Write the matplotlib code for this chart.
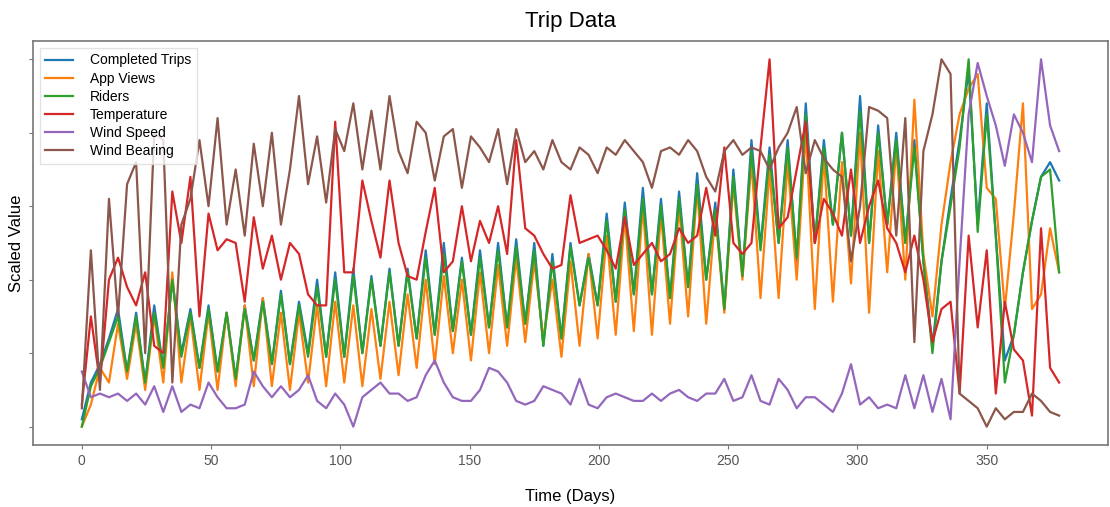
import numpy as np
import matplotlib
matplotlib.use("Agg")
import matplotlib.pyplot as plt

plt.rcParams['font.family'] = ['Liberation Sans', 'DejaVu Sans']

# half-week sampling, days 0 .. 378
days = np.arange(0, 379, 3.5)

completed_trips = [
    0.02, 0.12, 0.17, 0.24, 0.32, 0.15, 0.31, 0.12, 0.33, 0.16,
    0.40, 0.20, 0.32, 0.16, 0.33, 0.15, 0.31, 0.13, 0.33, 0.18,
    0.35, 0.17, 0.37, 0.17, 0.34, 0.20, 0.40, 0.19, 0.42, 0.19,
    0.43, 0.20, 0.41, 0.22, 0.43, 0.22, 0.43, 0.24, 0.48, 0.25,
    0.50, 0.26, 0.46, 0.25, 0.48, 0.27, 0.50, 0.27, 0.51, 0.28,
    0.50, 0.22, 0.47, 0.24, 0.50, 0.33, 0.47, 0.33, 0.58, 0.34,
    0.61, 0.36, 0.65, 0.36, 0.62, 0.35, 0.64, 0.38, 0.69, 0.40,
    0.61, 0.32, 0.70, 0.41, 0.78, 0.49, 0.76, 0.50, 0.78, 0.45,
    0.88, 0.50, 0.78, 0.55, 0.80, 0.52, 0.90, 0.50, 0.82, 0.55,
    0.80, 0.50, 0.78, 0.45, 0.22, 0.45, 0.62, 0.78, 0.97, 0.55,
    0.88, 0.52, 0.18, 0.25, 0.42, 0.56, 0.68, 0.72, 0.67,
]

app_views = [
    0.00, 0.06, 0.16, 0.12, 0.28, 0.13, 0.28, 0.10, 0.30, 0.12,
    0.42, 0.12, 0.30, 0.10, 0.31, 0.10, 0.31, 0.11, 0.33, 0.11,
    0.35, 0.11, 0.31, 0.10, 0.31, 0.12, 0.33, 0.11, 0.34, 0.12,
    0.33, 0.11, 0.32, 0.13, 0.34, 0.14, 0.36, 0.16, 0.40, 0.17,
    0.41, 0.20, 0.40, 0.18, 0.42, 0.20, 0.44, 0.22, 0.46, 0.23,
    0.45, 0.24, 0.40, 0.19, 0.45, 0.22, 0.47, 0.24, 0.52, 0.25,
    0.57, 0.26, 0.60, 0.25, 0.58, 0.28, 0.60, 0.30, 0.65, 0.28,
    0.58, 0.31, 0.66, 0.40, 0.72, 0.35, 0.70, 0.35, 0.72, 0.40,
    0.80, 0.32, 0.74, 0.34, 0.72, 0.39, 0.80, 0.31, 0.75, 0.42,
    0.76, 0.40, 0.89, 0.47, 0.30, 0.55, 0.72, 0.85, 0.92, 0.96,
    0.65, 0.62, 0.32, 0.58, 0.88, 0.32, 0.36, 0.54, 0.42,
]

riders = [
    0.00, 0.11, 0.16, 0.23, 0.30, 0.15, 0.30, 0.12, 0.31, 0.16,
    0.40, 0.19, 0.31, 0.16, 0.32, 0.15, 0.31, 0.13, 0.32, 0.18,
    0.34, 0.17, 0.36, 0.17, 0.33, 0.19, 0.38, 0.19, 0.40, 0.19,
    0.41, 0.20, 0.40, 0.22, 0.42, 0.22, 0.42, 0.24, 0.46, 0.25,
    0.47, 0.26, 0.45, 0.25, 0.46, 0.27, 0.48, 0.27, 0.49, 0.28,
    0.48, 0.22, 0.45, 0.24, 0.49, 0.33, 0.46, 0.33, 0.56, 0.34,
    0.59, 0.36, 0.62, 0.36, 0.60, 0.35, 0.62, 0.38, 0.66, 0.40,
    0.59, 0.32, 0.68, 0.41, 0.75, 0.48, 0.74, 0.50, 0.76, 0.46,
    0.85, 0.50, 0.76, 0.55, 0.80, 0.52, 0.86, 0.50, 0.80, 0.55,
    0.78, 0.50, 0.76, 0.45, 0.20, 0.45, 0.60, 0.76, 1.00, 0.53,
    0.85, 0.52, 0.12, 0.25, 0.42, 0.56, 0.68, 0.70, 0.42,
]

temperature = [
    0.06, 0.30, 0.12, 0.40, 0.46, 0.38, 0.33, 0.42, 0.22, 0.20,
    0.64, 0.50, 0.68, 0.30, 0.58, 0.48, 0.51, 0.50, 0.34, 0.57,
    0.43, 0.52, 0.40, 0.50, 0.47, 0.36, 0.33, 0.33, 0.83, 0.42,
    0.42, 0.67, 0.56, 0.46, 0.67, 0.50, 0.41, 0.40, 0.53, 0.65,
    0.42, 0.45, 0.60, 0.45, 0.56, 0.50, 0.60, 0.47, 0.78, 0.54,
    0.52, 0.47, 0.43, 0.44, 0.63, 0.50, 0.51, 0.52, 0.48, 0.43,
    0.57, 0.44, 0.47, 0.50, 0.45, 0.47, 0.54, 0.50, 0.52, 0.65,
    0.52, 0.76, 0.50, 0.47, 0.50, 0.76, 1.00, 0.54, 0.57, 0.70,
    0.83, 0.50, 0.62, 0.58, 0.52, 0.70, 0.50, 0.60, 0.67, 0.54,
    0.50, 0.42, 0.52, 0.40, 0.23, 0.32, 0.34, 0.09, 0.52, 0.27,
    0.48, 0.09, 0.34, 0.21, 0.18, 0.03, 0.54, 0.16, 0.12,
]

wind_speed = [
    0.15, 0.08, 0.09, 0.08, 0.09, 0.07, 0.09, 0.06, 0.11, 0.04,
    0.11, 0.04, 0.06, 0.05, 0.12, 0.08, 0.05, 0.05, 0.06, 0.15,
    0.11, 0.08, 0.11, 0.08, 0.10, 0.14, 0.07, 0.05, 0.09, 0.06,
    0.00, 0.08, 0.10, 0.12, 0.09, 0.09, 0.07, 0.08, 0.14, 0.18,
    0.12, 0.08, 0.07, 0.07, 0.10, 0.16, 0.15, 0.12, 0.07, 0.06,
    0.07, 0.11, 0.10, 0.09, 0.06, 0.13, 0.06, 0.05, 0.08, 0.09,
    0.08, 0.07, 0.07, 0.09, 0.07, 0.09, 0.10, 0.08, 0.07, 0.09,
    0.09, 0.13, 0.07, 0.08, 0.14, 0.07, 0.06, 0.13, 0.10, 0.05,
    0.08, 0.08, 0.06, 0.04, 0.09, 0.17, 0.06, 0.08, 0.05, 0.06,
    0.05, 0.14, 0.05, 0.14, 0.04, 0.13, 0.02, 0.45, 0.85, 0.99,
    0.90, 0.82, 0.71, 0.85, 0.80, 0.72, 1.00, 0.82, 0.75,
]

wind_bearing = [
    0.05, 0.48, 0.10, 0.62, 0.30, 0.66, 0.72, 0.20, 0.80, 0.78,
    0.12, 0.55, 0.62, 0.78, 0.60, 0.84, 0.55, 0.70, 0.52, 0.77,
    0.60, 0.80, 0.55, 0.70, 0.90, 0.66, 0.79, 0.61, 0.81, 0.75,
    0.88, 0.70, 0.86, 0.70, 0.90, 0.75, 0.69, 0.83, 0.80, 0.67,
    0.79, 0.81, 0.65, 0.79, 0.76, 0.72, 0.81, 0.66, 0.81, 0.72,
    0.75, 0.70, 0.78, 0.72, 0.70, 0.76, 0.74, 0.69, 0.76, 0.74,
    0.78, 0.75, 0.72, 0.65, 0.75, 0.76, 0.74, 0.78, 0.75, 0.68,
    0.64, 0.75, 0.78, 0.74, 0.76, 0.75, 0.70, 0.76, 0.80, 0.87,
    0.69, 0.78, 0.73, 0.70, 0.68, 0.45, 0.60, 0.87, 0.86, 0.84,
    0.52, 0.84, 0.23, 0.75, 0.85, 1.00, 0.96, 0.09, 0.07, 0.05,
    0.00, 0.05, 0.02, 0.04, 0.04, 0.09, 0.07, 0.04, 0.03,
]

series = [
    ("Completed Trips", completed_trips),
    ("App Views", app_views),
    ("Riders", riders),
    ("Temperature", temperature),
    ("Wind Speed", wind_speed),
    ("Wind Bearing", wind_bearing),
]

fig = plt.figure(figsize=(11.1, 5.07), dpi=100)
ax = fig.add_axes([0.0297, 0.1223, 0.9685, 0.797])

for name, vals in series:
    ax.plot(days, vals, label=name, linewidth=1.6)

ax.set_yticks([0, 0.2, 0.4, 0.6, 0.8, 1.0])
ax.set_yticklabels([])
ax.set_xticks([0, 50, 100, 150, 200, 250, 300, 350])

for s in ax.spines.values():
    s.set_color("#777777")
    s.set_linewidth(1.2)
ax.tick_params(colors="#777777", labelcolor="#555555", labelsize=10, length=3)

ax.set_title("Trip Data", fontsize=16, pad=10)
ax.set_xlabel("Time (Days)", fontsize=12, labelpad=15)
ax.set_ylabel("Scaled Value", fontsize=12)
ax.yaxis.set_label_coords(-0.008, 0.5)

ax.legend(loc="upper left", fontsize=10, handletextpad=1.2, labelspacing=0.3,
          borderaxespad=0.5, frameon=True, fancybox=False, edgecolor="#dddddd")

fig.savefig("out.png", dpi=100)
